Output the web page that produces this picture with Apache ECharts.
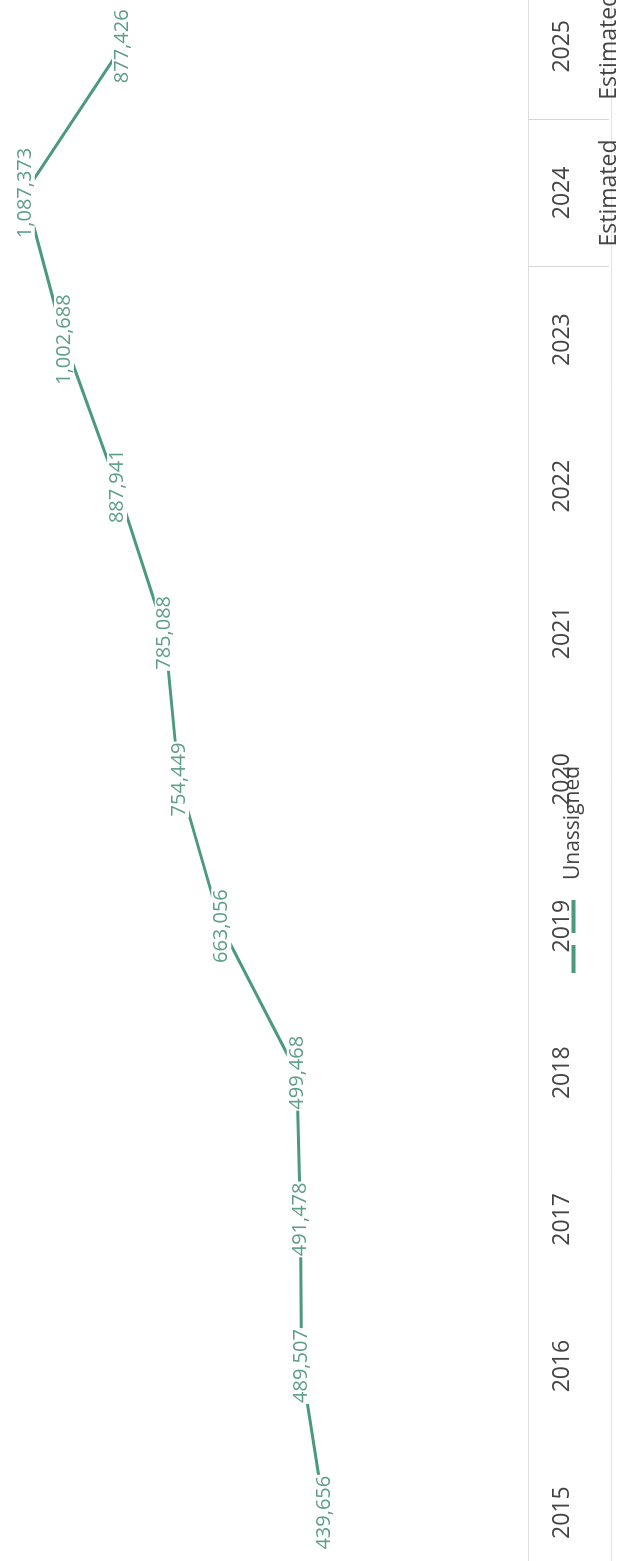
<!DOCTYPE html>
<html>
<head>
<meta charset="utf-8">
<script src="https://cdn.jsdelivr.net/npm/echarts@6/dist/echarts.min.js"></script>
<style>
  html, body { margin: 0; padding: 0; background: #fff; overflow: hidden; }
  body { width: 619px; height: 1561px; position: relative; }
  /* chart is laid out landscape and turned a quarter turn counter-clockwise */
  #chart {
    position: absolute; left: 0; top: 0;
    width: 1561px; height: 619px;
    transform-origin: 0 0;
    transform: translateY(1561px) rotate(-90deg);
  }
</style>
</head>
<body>
<div id="chart"></div>
<script>
// Yearly totals, last two years estimated
const years = ['2015', '2016', '2017', '2018', '2019', '2020', '2021', '2022', '2023', '2024', '2025'];
const unassigned = [439656, 489507, 491478, 499468, 663056, 754449, 785088, 887941, 1002688, 1087373, 877426];
const tierLabels = ['', '', '', '', '', '', '', '', '', 'Estimated', 'Estimated'];
const seriesName = 'Unassigned';

const LINE = '#4b9a7e';
const LABEL = '#5c9e89';
const TEXT = '#444444';
const RULE = '#dedede';

const chart = echarts.init(document.getElementById('chart'), null, { width: 1561, height: 619, renderer: 'canvas' });

chart.setOption({
  animation: false,
  textStyle: { fontFamily: 'Open Sans' },
  grid: { left: -25, right: -27, top: 0, bottom: 91, containLabel: false, outerBoundsMode: 'none' },
  legend: {
    data: [seriesName],
    left: 588, top: 563, padding: 0,
    itemWidth: 73, itemHeight: 4,
    icon: 'path://M0,0H28V4H0Z M40,0H73V4H40Z',
    textStyle: { fontSize: 21, color: TEXT, padding: [0, 0, 0, 15] }
  },
  xAxis: [
    {
      type: 'category', data: years, boundaryGap: true,
      axisLine: { show: true, lineStyle: { color: RULE, width: 1 } },
      axisTick: { show: true, length: 81, interval: (i) => i >= 9, lineStyle: { color: '#d6d6d6' } },
      axisLabel: { interval: 0, fontSize: 23, color: TEXT, margin: 23 },
      splitLine: { show: false }
    },
    {
      type: 'category', data: tierLabels, boundaryGap: true, position: 'bottom', offset: 83,
      axisLine: { show: true, lineStyle: { color: '#e4e4e4', width: 1 } },
      axisTick: { show: false },
      axisLabel: { interval: 0, fontSize: 23, color: TEXT, margin: -13 },
      splitLine: { show: false }
    }
  ],
  yAxis: {
    type: 'value', min: 0, max: 1141000,
    axisLine: { show: false }, axisTick: { show: false },
    axisLabel: { show: false }, splitLine: { show: false }
  },
  series: [{
    name: seriesName, type: 'line', xAxisIndex: 0,
    data: unassigned,
    symbol: 'circle', symbolSize: 2,
    itemStyle: { color: LINE },
    lineStyle: { color: LINE, width: 3 },
    label: {
      show: true, position: 'inside',
      formatter: (p) => p.value.toLocaleString('en-US'),
      fontSize: 20, color: LABEL,
      backgroundColor: '#ffffff', padding: [0, 1]
    }
  }]
});
</script>
</body>
</html>
